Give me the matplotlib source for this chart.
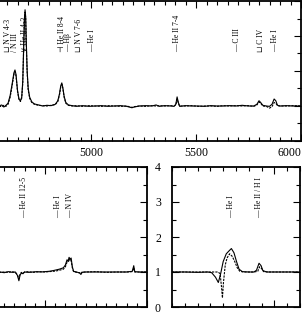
import numpy as np
import matplotlib
matplotlib.use('Agg')
import matplotlib.pyplot as plt
from matplotlib.ticker import MultipleLocator

plt.rcParams['font.family'] = ['Liberation Serif', 'DejaVu Serif']
plt.rcParams['mathtext.fontset'] = 'stix'

# optical panel (top)
opt_wl = [4560, 4575, 4585, 4595, 4605, 4615, 4625, 4633, 4638, 4643, 4650, 4657,
          4664, 4670, 4675, 4679, 4683, 4686, 4689, 4692, 4696, 4701, 4708, 4718,
          4730, 4750, 4770, 4790, 4810, 4830, 4842, 4850, 4856, 4861, 4866, 4872,
          4880, 4892, 4910, 4930, 4960, 4990, 5020, 5050, 5080, 5110, 5140, 5170,
          5195, 5205, 5230, 5260, 5290, 5310, 5325, 5350, 5380, 5395, 5404, 5410,
          5416, 5422, 5450, 5480, 5510, 5540, 5570, 5600, 5630, 5660, 5690, 5720,
          5750, 5775, 5790, 5800, 5808, 5818, 5835, 5850, 5862, 5872, 5880, 5888,
          5900, 5930, 5960, 6000]
opt_solid = [1.00, 1.03, 0.97, 1.02, 1.08, 1.30, 1.65, 1.95, 2.03, 1.90, 1.45, 1.20,
             1.15, 1.25, 1.70, 2.60, 3.50, 3.75, 3.55, 2.80, 2.00, 1.50, 1.25, 1.12,
             1.06, 1.03, 1.00, 1.02, 1.01, 1.05, 1.15, 1.35, 1.58, 1.66, 1.52, 1.28,
             1.10, 1.03, 1.01, 0.99, 1.01, 0.99, 1.00, 1.01, 0.99, 1.00, 1.01, 0.99,
             0.95, 0.97, 1.00, 1.01, 1.00, 1.03, 0.99, 1.01, 1.00, 0.99, 1.05, 1.26,
             1.10, 0.99, 1.01, 1.00, 1.00, 0.99, 1.01, 1.00, 1.00, 1.01, 1.00, 1.02,
             1.00, 1.00, 1.05, 1.15, 1.10, 1.02, 1.00, 0.99, 1.05, 1.20, 1.15, 1.02,
             1.00, 1.01, 1.00, 1.00]
opt_dashed = [1.00, 0.98, 1.02, 0.99, 1.05, 1.25, 1.60, 1.90, 1.98, 1.85, 1.42, 1.18,
              1.13, 1.22, 1.65, 2.55, 3.45, 3.68, 3.50, 2.75, 1.95, 1.45, 1.22, 1.10,
              1.05, 1.02, 1.01, 1.00, 1.02, 1.04, 1.13, 1.32, 1.55, 1.62, 1.50, 1.25,
              1.08, 1.02, 1.00, 1.01, 0.99, 1.01, 1.00, 0.99, 1.01, 1.00, 0.99, 1.00,
              0.96, 0.98, 1.00, 0.99, 1.01, 1.00, 1.01, 1.00, 1.01, 1.00, 1.03, 1.20,
              1.08, 1.00, 1.00, 1.01, 0.99, 1.00, 1.00, 0.99, 1.01, 1.00, 1.01, 1.00,
              1.01, 0.99, 1.03, 1.12, 1.08, 1.00, 0.99, 0.94, 0.98, 1.10, 1.08, 1.01,
              1.00, 1.00, 1.01, 1.00]

# red panel (bottom left)
red_wl = [6500, 6700, 6780, 6800, 6820, 6840, 6855, 6865, 6872, 6878, 6885, 6892,
          6900, 6920, 6940, 6960, 6980, 7000, 7020, 7040, 7055, 7070, 7090, 7100,
          7108, 7113, 7118, 7123, 7128, 7134, 7140, 7155, 7170, 7176, 7182, 7200,
          7250, 7300, 7350, 7400, 7428, 7435, 7440, 7460, 7500]
red_solid = [1.00, 1.00, 1.00, 0.98, 1.01, 0.99, 1.00, 0.90, 0.75, 0.92, 0.97, 0.95,
             1.00, 0.99, 1.00, 1.01, 1.00, 1.01, 1.02, 1.04, 1.06, 1.08, 1.12, 1.20,
             1.35, 1.30, 1.42, 1.36, 1.40, 1.15, 1.02, 1.00, 0.97, 0.93, 0.99, 1.00,
             1.00, 1.00, 1.00, 1.00, 1.02, 1.18, 1.01, 1.00, 1.00]
red_dashed = [1.00, 1.00, 0.99, 1.00, 0.99, 1.01, 0.98, 0.92, 0.80, 0.95, 0.99, 0.97,
              1.00, 1.01, 0.99, 1.00, 1.01, 1.00, 1.01, 1.02, 1.03, 1.05, 1.08, 1.15,
              1.28, 1.33, 1.30, 1.38, 1.32, 1.12, 1.01, 0.99, 0.98, 0.95, 1.00, 1.00,
              1.01, 0.99, 1.00, 1.00, 1.01, 1.12, 1.00, 1.00, 1.00]

# near-IR panel (bottom right)
ir_wl_solid = [10600, 10650, 10700, 10740, 10755, 10770, 10781, 10790, 10800, 10812,
               10825, 10832, 10842, 10852, 10862, 10875, 10900, 10920, 10930, 10940,
               10948, 10955, 10970, 11000, 11050, 11100]
ir_solid = [1.00, 1.00, 0.99, 1.00, 0.98, 0.85, 0.70, 0.95, 1.30, 1.52,
            1.62, 1.67, 1.55, 1.30, 1.08, 1.01, 1.00, 1.00, 1.05, 1.25,
            1.18, 1.04, 1.00, 1.00, 1.00, 1.00]
ir_wl_dashed = [10600, 10650, 10700, 10750, 10780, 10788, 10793, 10797, 10801, 10808,
                10815, 10825, 10835, 10845, 10855, 10865, 10880, 10920, 10935, 10942,
                10950, 10958, 10980, 11100]
ir_dashed = [1.00, 1.00, 1.00, 1.00, 1.00, 0.95, 0.60, 0.26, 0.70, 1.20,
             1.40, 1.52, 1.45, 1.30, 1.12, 1.02, 1.00, 1.00, 1.02, 1.15,
             1.10, 1.01, 1.00, 1.00]

# line identifications
opt_id_wl = [4607, 4637, 4684, 4862, 4893, 4945, 5005, 5410, 5695, 5808, 5876]
opt_id_txt = ['\u2294 N V 4-3', '/ N III', '\u2228 He II 4-3', '\u22a3 He II 8-4',
              '\u2014 H\u03b2', '\u2294 N V 7-6', '\u2014 He I', '\u2014 He II 7-4',
              '\u2014 C III', '\u2294 C IV', '\u2014 He I']
red_id_wl = [6897, 7064, 7123]
red_id_txt = ['\u2014 He II 12-5', '\u2014 He I', '\u2014 N IV']
ir_id_wl = [10832, 10939]
ir_id_txt = ['\u2014 He I', '\u2014 He II / H I']

W, H = 302, 312


def px_axes(fig, x0, y0, x1, y1):
    """Axes from pixel box (top-left origin)."""
    return fig.add_axes([x0 / W, 1 - y1 / H, (x1 - x0) / W, (y1 - y0) / H])


def style(ax, major, minor):
    ax.xaxis.set_major_locator(MultipleLocator(major))
    ax.xaxis.set_minor_locator(MultipleLocator(minor))
    ax.yaxis.set_major_locator(MultipleLocator(1))
    ax.yaxis.set_minor_locator(MultipleLocator(0.5))
    ax.tick_params(which='both', direction='in', top=True, right=True,
                   labelsize=8.5, width=0.8)
    ax.tick_params(which='major', length=5, pad=4)
    ax.tick_params(which='minor', length=3)
    for s in ax.spines.values():
        s.set_linewidth(1.3)
    ax.set_ylim(0, 4)


def draw(ax, wl_s, fs, wl_d, fd, id_wl, id_txt):
    ax.plot(wl_s, fs, color='black', lw=0.8)
    ax.plot(wl_d, fd, color='black', lw=0.8, ls=(0, (2, 1)))
    for w, t in zip(id_wl, id_txt):
        ax.text(w, 2.55, t, rotation=90, ha='center', va='bottom', fontsize=5.5)


def main():
    fig = plt.figure(figsize=(W / 100, H / 100), dpi=100)

    ax1 = px_axes(fig, -119, 1, 301, 141)
    style(ax1, 500, 50)
    ax1.set_xlim(4000, 6000)
    ax1.set_xticks([4500, 5000, 5500, 6000], ['', '5000', '5500', '6000'])
    ax1.tick_params(labelleft=False)
    draw(ax1, opt_wl, opt_solid, opt_wl, opt_dashed, opt_id_wl, opt_id_txt)
    ax1.get_xticklabels()[-1].set_ha('right')

    ax2 = px_axes(fig, -57, 167, 147, 307)
    style(ax2, 500, 50)
    ax2.set_xlim(6500, 7500)
    ax2.tick_params(labelleft=False, labelbottom=False)
    draw(ax2, red_wl, red_solid, red_wl, red_dashed, red_id_wl, red_id_txt)

    ax3 = px_axes(fig, 172, 167, 300, 307)
    style(ax3, 500, 50)
    ax3.set_xlim(10600, 11100)
    ax3.tick_params(labelbottom=False)
    ax3.tick_params(which='major', axis='y', pad=8)
    draw(ax3, ir_wl_solid, ir_solid, ir_wl_dashed, ir_dashed, ir_id_wl, ir_id_txt)

    fig.savefig('out.png', dpi=100)


if __name__ == '__main__':
    main()
